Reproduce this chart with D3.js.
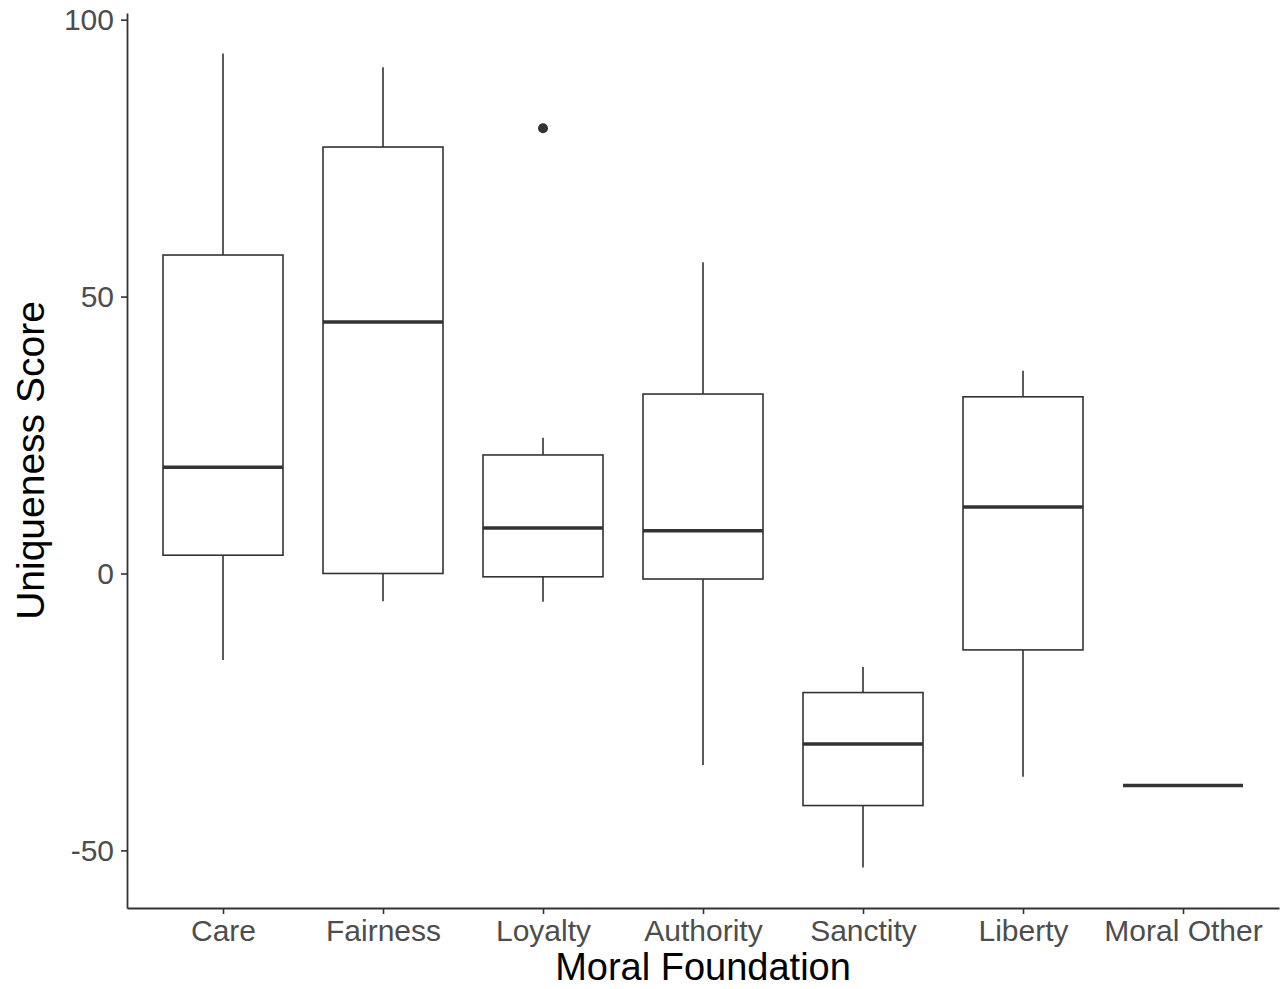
<!DOCTYPE html>
<html>
<head>
<meta charset="utf-8">
<script src="https://cdn.jsdelivr.net/npm/d3@7"></script>
<style>
  body { margin: 0; background: #fff; }
</style>
</head>
<body>
<script>
// five-number summaries
const foundations = ["Care", "Fairness", "Loyalty", "Authority", "Sanctity", "Liberty", "Moral Other"];
const whiskerLow  = [-15.6, -5.0, -5.1, -34.6, -53.1, -36.7, -38.3];
const q1          = [3.3, 0.0, -0.6, -1.0, -41.9, -13.8, -38.3];
const medians     = [19.2, 45.4, 8.2, 7.7, -30.8, 12.0, -38.3];
const q3          = [57.5, 77.0, 21.4, 32.4, -21.5, 31.9, -38.3];
const whiskerHigh = [93.9, 91.4, 24.5, 56.2, -16.9, 36.6, -38.3];
const outliers    = [{ cat: "Loyalty", value: 80.4 }];
const yTicks      = [-50, 0, 50, 100];

const width = 1287;
const height = 989;
const margin = { top: 13, right: 5, bottom: 81, left: 127 };

const svg = d3.select("body").append("svg")
  .attr("width", width)
  .attr("height", height)
  .style("font-family", "'Liberation Sans', Arial, sans-serif");

const x = d3.scalePoint()
  .domain(foundations)
  .range([margin.left, width - 8])
  .padding(0.6);

const y = d3.scaleLinear()
  .domain([-60.4, 101.2])
  .range([height - margin.bottom, margin.top]);

const boxHalf = x.step() * 0.375;
const ink = "#333333";

const data = foundations.map((f, i) => ({
  name: f, lo: whiskerLow[i], q1: q1[i], med: medians[i], q3: q3[i], hi: whiskerHigh[i]
}));

const boxes = svg.append("g").selectAll("g")
  .data(data)
  .join("g");

// whiskers
boxes.append("line")
  .attr("x1", d => x(d.name)).attr("x2", d => x(d.name))
  .attr("y1", d => y(d.q3)).attr("y2", d => y(d.hi))
  .attr("stroke", ink).attr("stroke-width", 1.6);
boxes.append("line")
  .attr("x1", d => x(d.name)).attr("x2", d => x(d.name))
  .attr("y1", d => y(d.q1)).attr("y2", d => y(d.lo))
  .attr("stroke", ink).attr("stroke-width", 1.6);

// boxes
boxes.append("rect")
  .attr("x", d => x(d.name) - boxHalf)
  .attr("width", boxHalf * 2)
  .attr("y", d => y(d.q3))
  .attr("height", d => y(d.q1) - y(d.q3))
  .attr("fill", "#fff")
  .attr("stroke", ink).attr("stroke-width", 1.6);

// medians
boxes.append("line")
  .attr("x1", d => x(d.name) - boxHalf).attr("x2", d => x(d.name) + boxHalf)
  .attr("y1", d => y(d.med)).attr("y2", d => y(d.med))
  .attr("stroke", ink).attr("stroke-width", 3.5);

// outliers
svg.append("g").selectAll("circle")
  .data(outliers)
  .join("circle")
  .attr("cx", d => x(d.cat))
  .attr("cy", d => y(d.value))
  .attr("r", 5)
  .attr("fill", ink);

// axes
const yAxis = svg.append("g")
  .attr("transform", `translate(${margin.left},0)`)
  .call(d3.axisLeft(y).tickValues(yTicks).tickFormat(d => String(d))
    .tickSize(6).tickPadding(7).tickSizeOuter(0));

const xAxis = svg.append("g")
  .attr("transform", `translate(0,${height - margin.bottom})`)
  .call(d3.axisBottom(x).tickSize(6).tickPadding(6).tickSizeOuter(0));

[xAxis, yAxis].forEach(a => {
  a.select(".domain").attr("stroke", ink).attr("stroke-width", 1.8);
  a.selectAll(".tick line").attr("stroke", ink).attr("stroke-width", 1.6);
  a.selectAll(".tick text")
    .attr("fill", "#4d4d4d")
    .style("font-size", "30px")
    .style("font-family", "'Liberation Sans', Arial, sans-serif");
});

// axis titles
svg.append("text")
  .attr("x", (margin.left + width - 8) / 2)
  .attr("y", 980)
  .attr("text-anchor", "middle")
  .attr("fill", "#000")
  .style("font-size", "38px")
  .text("Moral Foundation");

svg.append("text")
  .attr("transform", `translate(44,${(margin.top + height - margin.bottom) / 2}) rotate(-90)`)
  .attr("text-anchor", "middle")
  .attr("fill", "#000")
  .style("font-size", "39px")
  .text("Uniqueness Score");
</script>
</body>
</html>
